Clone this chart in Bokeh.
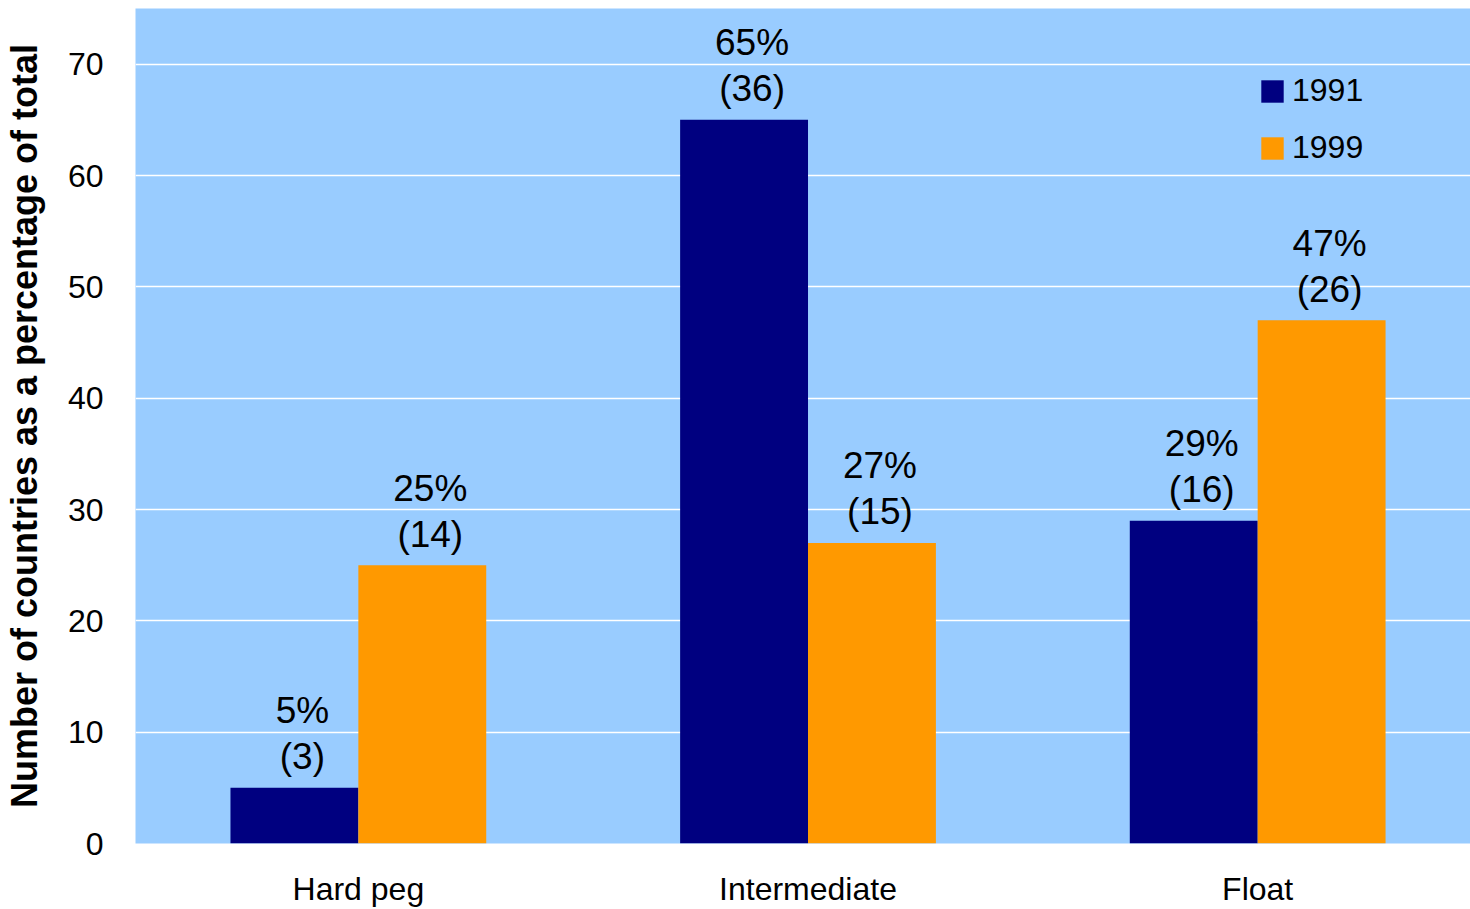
import numpy as np
from bokeh.plotting import figure
from bokeh.models import (ColumnDataSource, Range1d, FixedTicker, Legend, LegendItem)
from bokeh.core.properties import value
from bokeh.embed import file_html
from bokeh.resources import INLINE

# ---- data ----
categories = ["Hard peg", "Intermediate", "Float"]
pct_1991 = [5, 65, 29]
pct_1999 = [25, 27, 47]
count_1991 = [3, 36, 16]
count_1999 = [14, 15, 26]
y_ticks = [0, 10, 20, 30, 40, 50, 60, 70]
series_names = ["1991", "1999"]

FONT = "Liberation Sans"
NAVY = "#000080"
ORANGE = "#FF9900"
BG = "#99CCFF"

xpos = np.arange(len(categories))
bar_w = 0.2844

src91 = ColumnDataSource(dict(
    x=xpos - bar_w / 2, top=pct_1991,
    pct=[f"{v}%" for v in pct_1991], cnt=[f"({c})" for c in count_1991]))
src99 = ColumnDataSource(dict(
    x=xpos + bar_w / 2, top=pct_1999,
    pct=[f"{v}%" for v in pct_1999], cnt=[f"({c})" for c in count_1999]))

p = figure(width=1470, height=909,
           x_range=Range1d(-0.4956, 2.4733), y_range=Range1d(0, 75),
           output_backend="svg", toolbar_location=None,
           min_border_left=134, min_border_right=0,
           min_border_top=8, min_border_bottom=66)

p.background_fill_color = BG
p.border_fill_color = "white"
p.outline_line_color = None

r91 = p.vbar(x="x", top="top", width=bar_w, bottom=0, source=src91,
             fill_color=NAVY, line_color=None)
r99 = p.vbar(x="x", top="top", width=bar_w, bottom=0, source=src99,
             fill_color=ORANGE, line_color=None)

for src in (src91, src99):
    p.text(x="x", y="top", text="cnt", source=src, x_offset=8, y_offset=-31,
           text_align="center", text_baseline="middle",
           text_font=value(FONT), text_font_size="37px", text_color="black")
    p.text(x="x", y="top", text="pct", source=src, x_offset=8, y_offset=-77,
           text_align="center", text_baseline="middle",
           text_font=value(FONT), text_font_size="37px", text_color="black")

# axes
p.xaxis.ticker = FixedTicker(ticks=list(xpos))
p.xaxis.major_label_overrides = {int(i): c for i, c in zip(xpos, categories)}
p.yaxis.ticker = FixedTicker(ticks=y_ticks)
for ax in (p.xaxis, p.yaxis):
    ax.axis_line_color = None
    ax.major_tick_line_color = None
    ax.minor_tick_line_color = None
    ax.major_label_text_font = FONT
    ax.major_label_text_font_size = "32px"
    ax.major_label_text_color = "black"
p.xaxis.major_label_standoff = 21
p.yaxis.major_label_standoff = 26
p.yaxis.axis_label = "Number of countries as a percentage of total"
p.yaxis.axis_label_text_font = FONT
p.yaxis.axis_label_text_font_style = "bold"
p.yaxis.axis_label_text_font_size = "36px"
p.yaxis.axis_label_text_color = "black"
p.yaxis.axis_label_standoff = 20

p.xgrid.visible = False
p.ygrid.ticker = FixedTicker(ticks=y_ticks)
p.ygrid.grid_line_color = "white"
p.ygrid.grid_line_width = 1.5

legend = Legend(items=[LegendItem(label=series_names[0], renderers=[r91]),
                       LegendItem(label=series_names[1], renderers=[r99])],
                location=(1123, 677))
legend.background_fill_color = BG
legend.background_fill_alpha = 0
legend.border_line_color = None
legend.glyph_width = 28
legend.glyph_height = 28
legend.label_text_font = FONT
legend.label_text_font_size = "32px"
legend.label_text_color = "black"
legend.label_standoff = 6
legend.spacing = 20
legend.padding = 0
legend.margin = 0
p.add_layout(legend)

open("out.html", "w").write(file_html(p, INLINE))
